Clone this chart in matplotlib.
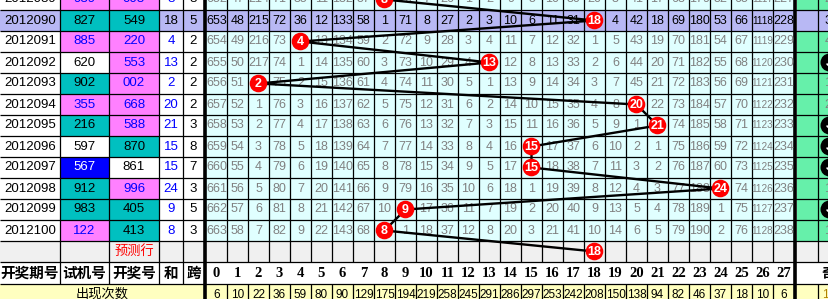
import matplotlib
matplotlib.use('Agg')
import matplotlib.pyplot as plt
from matplotlib.patches import Rectangle, Circle

# ---- data ----
periods = ['2012089', '2012090', '2012091', '2012092', '2012093', '2012094',
           '2012095', '2012096', '2012097', '2012098', '2012099', '2012100']
test_nums = ['939', '827', '885', '620', '902', '355', '216', '597', '567', '912', '983', '122']
test_kind = ['p', 't', 'p', 'w', 't', 'p', 't', 'w', 'b', 't', 't', 'p']
draw_nums = ['008', '549', '220', '553', '002', '668', '588', '870', '861', '996', '405', '413']
draw_kind = ['p', 't', 'p', 'p', 'p', 'p', 'p', 't', 'w', 'p', 't', 't']
sums = [8, 18, 4, 13, 2, 20, 21, 15, 15, 24, 9, 8]
spans = [8, 5, 2, 2, 2, 2, 3, 8, 7, 3, 5, 3]
forecast_sum = 18
odd_vals = ['2', '3', '4', 'J', '1', '2', 'J', 'J', 'J', '1', 'J', '1']

# omission values per row, columns 0..27 (hit cell holds 0, drawn as a ball)
omit = [
    [652, 47, 214, 71, 35, 11, 132, 57, 0, 70, 7, 26, 1, 2, 9, 5, 10, 30, 20, 3, 41, 17, 68, 179, 52, 65, 1117, 227],
    [653, 48, 215, 72, 36, 12, 133, 58, 1, 71, 8, 27, 2, 3, 10, 6, 11, 31, 0, 4, 42, 18, 69, 180, 53, 66, 1118, 228],
    [654, 49, 216, 73, 0, 13, 134, 59, 2, 72, 9, 28, 3, 4, 11, 7, 12, 32, 1, 5, 43, 19, 70, 181, 54, 67, 1119, 229],
    [655, 50, 217, 74, 1, 14, 135, 60, 3, 73, 10, 29, 4, 0, 12, 8, 13, 33, 2, 6, 44, 20, 71, 182, 55, 68, 1120, 230],
    [656, 51, 0, 75, 2, 15, 136, 61, 4, 74, 11, 30, 5, 1, 13, 9, 14, 34, 3, 7, 45, 21, 72, 183, 56, 69, 1121, 231],
    [657, 52, 1, 76, 3, 16, 137, 62, 5, 75, 12, 31, 6, 2, 14, 10, 15, 35, 4, 8, 0, 22, 73, 184, 57, 70, 1122, 232],
    [658, 53, 2, 77, 4, 17, 138, 63, 6, 76, 13, 32, 7, 3, 15, 11, 16, 36, 5, 9, 1, 0, 74, 185, 58, 71, 1123, 233],
    [659, 54, 3, 78, 5, 18, 139, 64, 7, 77, 14, 33, 8, 4, 16, 0, 17, 37, 6, 10, 2, 1, 75, 186, 59, 72, 1124, 234],
    [660, 55, 4, 79, 6, 19, 140, 65, 8, 78, 15, 34, 9, 5, 17, 0, 18, 38, 7, 11, 3, 2, 76, 187, 60, 73, 1125, 235],
    [661, 56, 5, 80, 7, 20, 141, 66, 9, 79, 16, 35, 10, 6, 18, 1, 19, 39, 8, 12, 4, 3, 77, 188, 0, 74, 1126, 236],
    [662, 57, 6, 81, 8, 21, 142, 67, 10, 0, 17, 36, 11, 7, 19, 2, 20, 40, 9, 13, 5, 4, 78, 189, 1, 75, 1127, 237],
    [663, 58, 7, 82, 9, 22, 143, 68, 0, 1, 18, 37, 12, 8, 20, 3, 21, 41, 10, 14, 6, 5, 79, 190, 2, 76, 1128, 238],
]
counts = [6, 10, 22, 36, 59, 80, 90, 129, 175, 194, 219, 258, 245, 291, 286, 297,
          253, 242, 208, 150, 138, 94, 82, 46, 37, 18, 10, 6]
odd_count = '18'
left_headers = ['开奖期号', '试机号', '开奖号', '和', '跨']
highlight_row = 1

# ---- style ----
CYAN = '#e0ffff'
LAV = '#b8b8f4'
TEAL = '#00c0c0'
MAG = '#ff80ff'
BLUE = '#0000ff'
GREEN = '#66f0aa'
GREYBG = '#f0f0f0'
YEL = '#ffffc0'
kind_style = {'p': (MAG, BLUE), 't': (TEAL, 'black'), 'w': ('white', 'black'), 'b': (BLUE, 'white')}

CJK = ['Noto Sans CJK SC', 'DejaVu Sans']
NUM = 'Liberation Sans'

# layout in pixels
left_edges = [0, 60, 109, 159, 183, 204]
nx0, cw = 206, 21
ncols = 28
right_thick = 795.5
g0, g1, g2 = 797, 818, 839
y0, rh = -11, 21
nrows = len(periods) + 1          # plus forecast row
hdr_top = y0 + nrows * rh
hdr_bot = hdr_top + 22
cnt_bot = hdr_bot + 21


def colx(k):
    return nx0 + cw * k + cw / 2


def rowy(i):
    return y0 + rh * i + rh / 2


fig = plt.figure(figsize=(8.29, 2.99), dpi=100)
ax = fig.add_axes([0, 0, 1, 1])
ax.set_xlim(0, 829)
ax.set_ylim(299, 0)
ax.axis('off')


def cell(x0, x1, yt, yb, color):
    ax.add_patch(Rectangle((x0, yt), x1 - x0, yb - yt, facecolor=color, edgecolor='none', zorder=0))


# backgrounds
for i in range(len(periods)):
    yt, yb = y0 + rh * i, y0 + rh * (i + 1)
    base = LAV if i == highlight_row else 'white'
    cell(0, nx0 + cw * ncols, yt, yb, base if i == highlight_row else CYAN)
    cell(0, left_edges[5], yt, yb, base)
    cell(g0, g2, yt, yb, LAV if i == highlight_row else GREEN)
    cell(left_edges[1], left_edges[2], yt, yb, kind_style[test_kind[i]][0])
    cell(left_edges[2], left_edges[3], yt, yb, kind_style[draw_kind[i]][0])
fy = y0 + rh * len(periods)
cell(0, g2, fy, fy + rh, GREYBG)
cell(0, g2, hdr_top, hdr_bot, 'white')
cell(0, g2, hdr_bot, cnt_bot, YEL)

# grid lines
lw1 = 0.9
for k in range(nrows + 1):
    ax.hlines(y0 + rh * k, 0, g2, color='black', lw=lw1, zorder=1)
ax.hlines(hdr_bot, 0, g2, color='black', lw=lw1, zorder=1)
for x in left_edges[1:5]:
    ax.vlines(x, y0, hdr_bot, color='black', lw=lw1, zorder=1)
for k in range(1, ncols):
    ax.vlines(nx0 + cw * k, y0, hdr_top, color='black', lw=lw1, zorder=1)
    ax.vlines(nx0 + cw * k, hdr_bot, cnt_bot, color='black', lw=lw1, zorder=1)
ax.vlines(g1, y0, hdr_top, color='black', lw=lw1, zorder=1)
ax.vlines(g1, hdr_bot, cnt_bot, color='black', lw=lw1, zorder=1)
ax.vlines(205.5, y0, cnt_bot, color='black', lw=2.6, zorder=1)
ax.vlines(right_thick, y0, cnt_bot, color='black', lw=2.6, zorder=1)

# left columns
lcx = [(left_edges[j] + left_edges[j + 1]) / 2 for j in range(5)]
for i, p in enumerate(periods):
    cy = rowy(i)
    ax.text(lcx[0], cy, p, ha='center', va='center', fontsize=9.5, family=NUM, color='black', zorder=2)
    ax.text(lcx[1], cy, test_nums[i], ha='center', va='center', fontsize=9.5, family=NUM,
            color=kind_style[test_kind[i]][1], zorder=2)
    ax.text(lcx[2], cy, draw_nums[i], ha='center', va='center', fontsize=9.5, family=NUM,
            color=kind_style[draw_kind[i]][1], zorder=2)
    ax.text(lcx[3], cy, str(sums[i]), ha='center', va='center', fontsize=9.5, family=NUM,
            color='black' if i == highlight_row else BLUE, zorder=2)
    ax.text(lcx[4], cy, str(spans[i]), ha='center', va='center', fontsize=9.5, family=NUM,
            color='black', zorder=2)
    # omission numbers
    for k in range(ncols):
        if k == sums[i]:
            continue
        v = str(omit[i][k])
        fs = 7.2 if len(v) > 3 else 9
        col = 'black' if i == highlight_row else '#808080'
        ax.text(colx(k), cy, v, ha='center', va='center', fontsize=fs, family=NUM, color=col, zorder=2)
    # odd column
    ox = g1 + (g2 - g1) / 2
    if odd_vals[i] == 'J':
        ax.add_patch(Circle((ox + 1, cy), 9, facecolor='black', edgecolor='none', zorder=4))
        ax.text(ox + 1, cy, 'J', ha='center', va='center', fontsize=9, weight='bold',
                family=NUM, color='white', zorder=5)
    else:
        ax.text(ox, cy, odd_vals[i], ha='center', va='center', fontsize=9.5, family=NUM,
                color='#808080' if i != highlight_row else 'black', zorder=2)

ax.text(lcx[2], rowy(len(periods)), '预测行', ha='center', va='center', fontsize=9.5,
        family=CJK, color='red', zorder=2)

# trend line and balls
ball_cols = sums + [forecast_sum]
xs = [colx(c) for c in ball_cols]
ys = [rowy(i) for i in range(len(ball_cols))]
ax.plot(xs, ys, color='black', lw=1.7, zorder=3, solid_capstyle='round')
for x, y, c in zip(xs, ys, ball_cols):
    ax.add_patch(Circle((x, y), 8.8, facecolor='#ff0000', edgecolor='none', zorder=4))
    ax.text(x, y + 0.5, str(c), ha='center', va='center', fontsize=9, weight='bold',
            family=NUM, color='white', zorder=5)

# header row
hy = (hdr_top + hdr_bot) / 2
for j, h in enumerate(left_headers):
    ax.text(lcx[j], hy, h, ha='center', va='center', fontsize=10.5, weight='bold',
            family=CJK, color='black', zorder=2)
for k in range(ncols):
    ax.text(colx(k), hy + 0.5, str(k), ha='center', va='center', fontsize=10.5, weight='bold',
            family='Liberation Serif', color='black', zorder=2)
ax.text(g1 + (g2 - g1) / 2, hy, '奇', ha='center', va='center', fontsize=10.5, weight='bold',
        family=CJK, color='black', zorder=2)

# count row
cy = (hdr_bot + cnt_bot) / 2
ax.text(left_edges[5] / 2, cy, '出现次数', ha='center', va='center', fontsize=9.5,
        family=CJK, color='black', zorder=2)
for k, c in enumerate(counts):
    ax.text(colx(k), cy, str(c), ha='center', va='center', fontsize=8.5, family=NUM,
            color='black', zorder=2)
ax.text(g1 + (g2 - g1) / 2, cy, odd_count, ha='center', va='center', fontsize=8.5,
        family=NUM, color='#b08000', zorder=2)

fig.savefig('out.png', dpi=100)
